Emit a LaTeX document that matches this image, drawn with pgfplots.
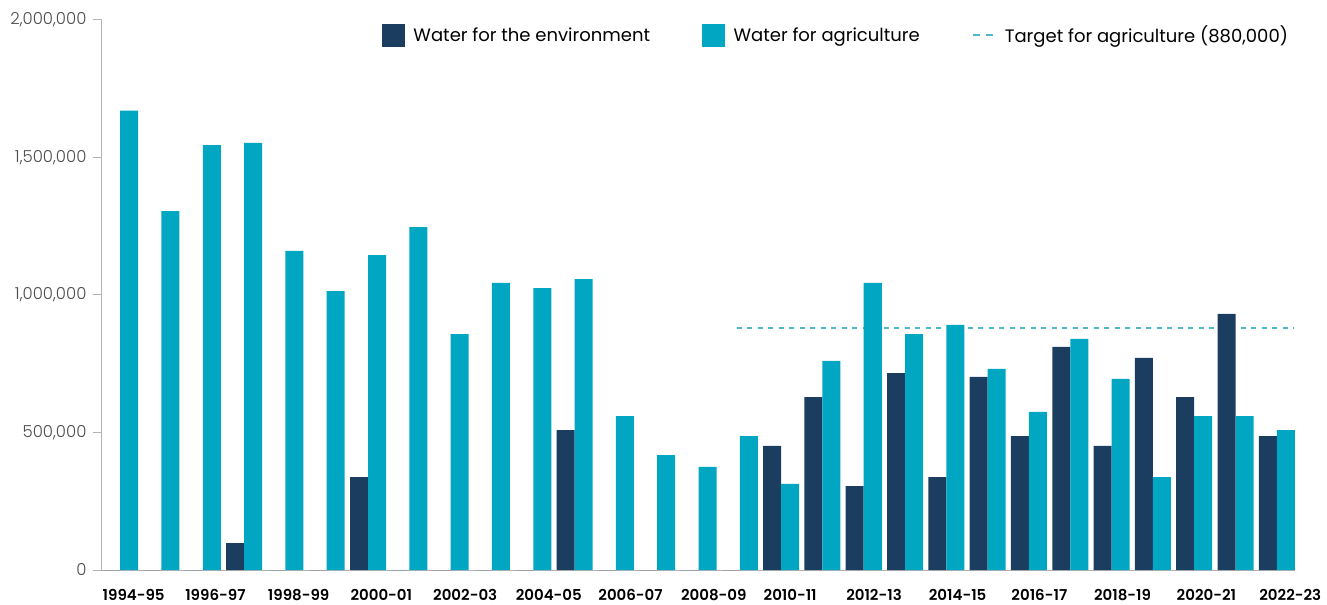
\documentclass[border=0pt]{standalone}
\usepackage{pgfplots}
\usepackage{pgfplotstable}
\pgfplotsset{compat=1.18}
\usepackage{fontspec}
\setmainfont{Poppins}
\newfontfamily\psemi{Poppins SemiBold}
\newfontfamily\plight{Poppins Light}
\definecolor{envc}{HTML}{1B3D60}
\definecolor{agric}{HTML}{00A6C2}
\definecolor{tgtc}{HTML}{4CB8C8}
\definecolor{axgray}{HTML}{B3B3B3}
\definecolor{labgray}{HTML}{4D4D4D}

\pgfplotstableread{
i env agri
0 0 1670000
1 0 1305000
2 0 1545000
3 98000 1553000
4 0 1160000
5 0 1014000
6 338000 1145000
7 0 1247000
8 0 858000
9 0 1044000
10 0 1025000
11 509000 1058000
12 0 560000
13 0 418000
14 0 375000
15 0 487000
16 451000 313000
17 629000 760000
18 305000 1044000
19 716000 858000
20 338000 891000
21 702000 731000
22 487000 575000
23 811000 840000
24 451000 695000
25 771000 338000
26 629000 560000
27 931000 560000
28 487000 509000
}\datatable

\pgfplotsset{
  envleg/.style={legend image code/.code={\fill[envc] (0pt,-11pt) rectangle (22pt,11pt);}},
  agrileg/.style={legend image code/.code={\fill[agric] (0pt,-11pt) rectangle (22pt,11pt);}},
  tgtleg/.style={legend image code/.code={\draw[tgtc, line width=2pt, dash pattern=on 7pt off 6pt] (0pt,0pt) -- (22pt,0pt);}},
}

\begin{document}
\begin{tikzpicture}
\begin{axis}[
  name=ax,
  scale only axis,
  width=1193pt, height=550pt,
  xmin=-0.44, xmax=28.44,
  ymin=0, ymax=2000000,
  axis x line*=bottom,
  axis y line*=left,
  axis line style={axgray, line width=1pt},
  ytick={0,500000,1000000,1500000,2000000},
  scaled y ticks=false,
  /pgf/number format/.cd, fixed, 1000 sep={,}, assume math mode=true,
  /pgfplots/.cd,
  yticklabel style={font=\plight\fontsize{16.5}{16.5}\selectfont, text=labgray, xshift=-3pt},
  ytick style={axgray, line width=1pt},
  major tick length=9pt,
  tick align=outside,
  xtick={-0.436,1.564,3.564,5.564,7.564,9.564,11.564,13.564,15.564,17.564,19.564,21.564,23.564,25.564,27.564},
  xticklabels={1994-95,1996-97,1998-99,2000-01,2002-03,2004-05,2006-07,2008-09,2010-11,2012-13,2014-15,2016-17,2018-19,2020-21,2022-23},
  xticklabel style={anchor=north west, font=\psemi\fontsize{15}{15}\selectfont, text=black, yshift=-7pt, xshift=-3pt},
  x tick style={draw=none},
  legend columns=3,
  legend style={at={(0.996,0.993)}, anchor=north east, draw=none, fill=none,
    font=\fontsize{18}{18}\selectfont, inner sep=0pt,
    /tikz/every odd column/.append style={column sep=7pt},
    /tikz/every even column/.append style={column sep=50pt}},
  legend cell align=left,
]
\addlegendimage{envleg}
\addlegendimage{agrileg}
\addlegendimage{tgtleg}
\addplot[tgtc, line width=2pt, dash pattern=on 5pt off 5.5pt, forget plot] coordinates {(14.93,880000) (28.42,880000)};
\addplot[ybar, bar width=0.436, bar shift=-0.218, fill=envc, draw=none, forget plot] table[x=i, y=env] {\datatable};
\addplot[ybar, bar width=0.436, bar shift=0.218, fill=agric, draw=none, forget plot] table[x=i, y=agri] {\datatable};
\legend{Water for the environment, Water for agriculture, {Target for agriculture (880,000)}}
\end{axis}
\path (ax.south west) ++(-102pt,-33pt) rectangle ++(1327pt,603pt);
\end{tikzpicture}
\end{document}
